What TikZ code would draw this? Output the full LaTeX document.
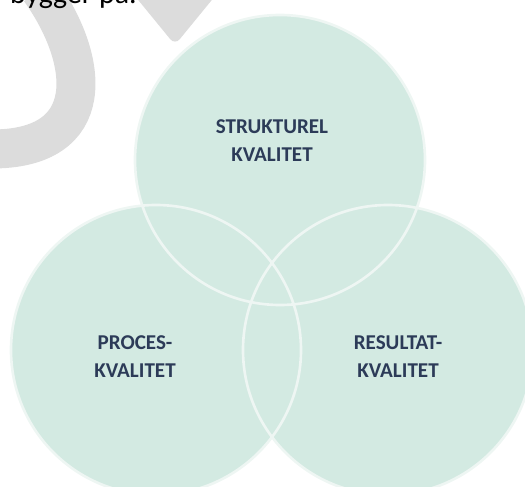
\documentclass[tikz,border=0pt]{standalone}
\usepackage{fontspec}
\setmainfont{Carlito}
\definecolor{mint}{HTML}{D3EAE2}
\definecolor{rimwhite}{HTML}{EEF6F3}
\definecolor{navy}{HTML}{2C3B58}
\definecolor{wmgrey}{HTML}{DCDCDC}
\begin{document}
\begin{tikzpicture}

\tikzstyle{ring}=[circle, fill=mint, inner sep=0pt, minimum size=5.8cm];
\tikzstyle{lbl}=[align=center, text=navy, font=\fontsize{12}{16}\selectfont\bfseries];

\useasboundingbox (0,0) rectangle (10.5,9.72);
\clip (0,0) rectangle (10.5,9.72);

% watermark behind the text
\draw[draw=wmgrey, line width=0.78cm] (0.8,9.92) .. controls (1.8,8.52) and (2.0,6.72) .. (-0.2,6.74);
\fill[wmgrey, rounded corners=0.15cm] (2.6,9.92) -- (3.5,8.82) -- (4.4,9.92) -- cycle;

\node[anchor=base east, inner sep=0pt, font=\fontsize{17}{20}\selectfont] (intro) at (2.74,9.64) {r bygger på.};

\node[ring] (struktur) at (5.6,6.52) {};
\node[ring] (proces) at (3.12,2.72) {};
\node[ring] (resultat) at (7.76,2.72) {};

%\draw[rimwhite] (struktur) circle (2.9);
\foreach \c in {struktur, proces, resultat}
  \draw[draw=rimwhite, line width=1.5pt] (\c.center) circle (2.9);

\node[lbl] (t_struktur) at (5.44,6.9) {STRUKTUREL\\KVALITET};
\node[lbl] (t_proces) at (2.7,2.59) {PROCES-\\KVALITET};
\node[lbl] (t_resultat) at (7.96,2.59) {RESULTAT-\\KVALITET};
\end{tikzpicture}
\end{document}
